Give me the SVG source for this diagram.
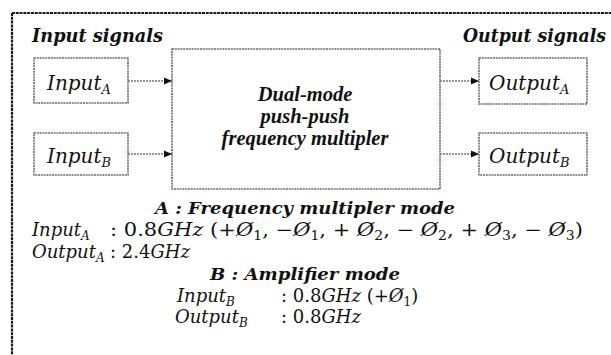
<svg xmlns="http://www.w3.org/2000/svg" width="611" height="355" viewBox="0 0 611 355">
<style>
.frame{fill:none;stroke:#1a1a1a;stroke-width:2.2;stroke-dasharray:3 0.8}
.box{fill:#fff;stroke:#6a6a6a;stroke-width:1.6;stroke-dasharray:2 0.8}
.conn{stroke:#777;stroke-width:1.3;stroke-dasharray:2 1;fill:none}
.bi{font-family:'DejaVu Serif',serif;font-weight:bold;font-style:italic;fill:#111}
.bt{font-family:'Liberation Serif',serif;font-weight:bold;font-style:italic;fill:#111;font-size:20.5px}
.m{font-family:'DejaVu Serif',serif;font-style:italic;fill:#111}
.up{font-style:normal}
</style>
<defs>
<marker id="ah" viewBox="0 0 8 8" refX="8" refY="4" markerWidth="8" markerHeight="8" markerUnits="userSpaceOnUse" orient="auto">
<path d="M0,0.5 L8,4 L0,7.5 Z" fill="#111"/>
</marker>
</defs>
<rect class="frame" x="12" y="13" width="620" height="360"/>
<text class="bi" x="32" y="42" font-size="18" textLength="131" lengthAdjust="spacingAndGlyphs">Input signals</text>
<text class="bi" x="463" y="42" font-size="18" textLength="143" lengthAdjust="spacingAndGlyphs">Output signals</text>

<g id="multiplier">
<rect class="box" x="172" y="49" width="268" height="140"/>
<text class="bt" x="305" y="101" text-anchor="middle">Dual-mode</text>
<text class="bt" x="305" y="123" text-anchor="middle">push-push</text>
<text class="bt" x="305" y="145" text-anchor="middle">frequency multipler</text>
</g>
<g id="inputA">
<rect class="box" x="34" y="58" width="94" height="45"/>
<text class="m" x="47" y="90" font-size="20">Input<tspan font-size="13" dy="4">A</tspan></text>
</g>
<g id="inputB">
<rect class="box" x="34" y="133" width="94" height="42"/>
<text class="m" x="47" y="163" font-size="20">Input<tspan font-size="13" dy="4">B</tspan></text>
</g>
<g id="outputA">
<rect class="box" x="479" y="58" width="108" height="46"/>
<text class="m" x="489" y="90" font-size="20">Output<tspan font-size="13" dy="4">A</tspan></text>
</g>
<g id="outputB">
<rect class="box" x="479" y="133" width="108" height="42"/>
<text class="m" x="489" y="163" font-size="20">Output<tspan font-size="13" dy="4">B</tspan></text>
</g>
<g id="connectors">
<line class="conn" x1="128" y1="81" x2="172" y2="81" marker-end="url(#ah)"/>
<line class="conn" x1="128" y1="154" x2="172" y2="154" marker-end="url(#ah)"/>
<line class="conn" x1="440" y1="81" x2="479" y2="81" marker-end="url(#ah)"/>
<line class="conn" x1="440" y1="154" x2="479" y2="154" marker-end="url(#ah)"/>
</g>
<g id="notes">
<text class="bi" x="155" y="214" font-size="17" textLength="300" lengthAdjust="spacingAndGlyphs">A : Frequency multipler mode</text>
<text class="m" x="32" y="236" font-size="18">Input<tspan font-size="12" dy="4">A</tspan></text>
<text class="m" x="110" y="236" font-size="18" textLength="473" lengthAdjust="spacingAndGlyphs"><tspan class="up">: 0.8</tspan>GHz <tspan class="up">(+</tspan>Ø<tspan class="up" font-size="12" dy="4">1</tspan><tspan class="up" dy="-4">, −</tspan>Ø<tspan class="up" font-size="12" dy="4">1</tspan><tspan class="up" dy="-4">, + </tspan>Ø<tspan class="up" font-size="12" dy="4">2</tspan><tspan class="up" dy="-4">, − </tspan>Ø<tspan class="up" font-size="12" dy="4">2</tspan><tspan class="up" dy="-4">, + </tspan>Ø<tspan class="up" font-size="12" dy="4">3</tspan><tspan class="up" dy="-4">, − </tspan>Ø<tspan class="up" font-size="12" dy="4">3</tspan><tspan class="up" dy="-4">)</tspan></text>
<text class="m" x="32" y="258" font-size="18">Output<tspan font-size="12" dy="4">A</tspan></text>
<text class="m" x="110" y="258" font-size="18"><tspan class="up">: 2.4</tspan>GHz</text>
<text class="bi" x="210" y="280" font-size="17" textLength="190" lengthAdjust="spacingAndGlyphs">B : Amplifier mode</text>
<text class="m" x="177" y="302" font-size="18">Input<tspan font-size="12" dy="4">B</tspan></text>
<text class="m" x="281" y="302" font-size="18"><tspan class="up">: 0.8</tspan>GHz <tspan class="up">(+</tspan>Ø<tspan class="up" font-size="12" dy="4">1</tspan><tspan class="up" dy="-4">)</tspan></text>
<text class="m" x="175" y="323" font-size="18">Output<tspan font-size="12" dy="4">B</tspan></text>
<text class="m" x="281" y="323" font-size="18"><tspan class="up">: 0.8</tspan>GHz</text>
</g>
</svg>
